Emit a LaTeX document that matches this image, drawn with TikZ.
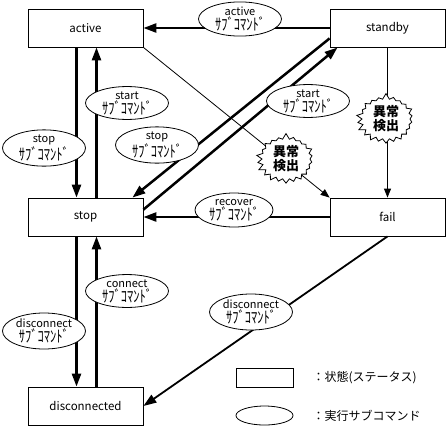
\documentclass[tikz,border=0pt]{standalone}
\usepackage{fontspec}
\newfontfamily\jp{Noto Sans CJK JP}
\usetikzlibrary{shapes.geometric,shapes.symbols,arrows.meta,calc}
\newcommand\subcmdtext{\scalebox{1}[1.3]{\fontsize{12.5}{13}\selectfont ｻﾌﾞｺﾏﾝﾄﾞ}}
\begin{document}
\begin{tikzpicture}[x=1pt,y=-1pt,
  state/.style={draw,line width=0.8pt,minimum width=115pt,minimum height=38pt,inner sep=0pt,font=\jp\fontsize{11.5}{13}\selectfont},
  cmd/.style={ellipse,draw,line width=0.8pt,fill=white,inner sep=0pt,minimum width=83pt,minimum height=32pt,align=center,font=\jp\fontsize{11}{13}\selectfont},
  thickarrow/.style={line width=2.5pt,-{Triangle[width=9pt,length=13pt]}},
  thinarrow/.style={line width=0.8pt,-{Triangle[width=7pt,length=9pt]}},
  alarm/.style={starburst,draw,fill=white,line width=0.8pt,starburst points=22,starburst point height=6pt,random starburst=7,align=center,font=\jp\bfseries\fontsize{13}{14}\selectfont,inner sep=0pt,minimum width=60pt,minimum height=52pt},
  legtext/.style={anchor=west,font=\jp\fontsize{12}{13}\selectfont}]
\useasboundingbox (0,0) rectangle (447,429);
% states
\node[state] (active) at (85.5,28) {active};
\node[state] (standby) at (387.5,28) {standby};
\node[state] (stop) at (85.5,217) {stop};
\node[state] (fail) at (387.5,217) {fail};
\node[state] (disc) at (85.5,406) {disconnected};
% connectors
\draw[thickarrow] ($(active.south)+(-9,0)$) -- ($(stop.north)+(-9,0)$);
\draw[thickarrow] ($(stop.north)+(11,0)$) -- ($(active.south)+(11,0)$);
\draw[thickarrow] ($(stop.south)+(-9,0)$) -- ($(disc.north)+(-9,0)$);
\draw[thickarrow] ($(disc.north)+(11,0)$) -- ($(stop.south)+(11,0)$);
\draw[thickarrow] (standby.west) -- (active.east);
\draw[thickarrow] ($(standby.south west)+(0,-9)$) -- ($(stop.north east)+(-11,0)$);
\draw[thickarrow] ($(stop.north east)+(0,12)$) -- ($(standby.south west)+(8,0)$);
\draw[thickarrow] (fail.west) -- (stop.east);
\draw[line width=1.8pt,-{Triangle[width=9pt,length=13pt]}] (fail.south) -- (disc.east);
\draw[thinarrow] (active.south east) -- (fail.north west);
\draw[thinarrow] (standby.south) -- (fail.north);
% command labels
\node[cmd,minimum height=34pt] (cactive) at (240,19) {active\\\subcmdtext};
\node[cmd,minimum height=34pt] (cstop2) at (157,145) {stop\\\subcmdtext};
\node[cmd] (cstart2) at (308,101) {start\\\subcmdtext};
\node[cmd,minimum height=29pt] (cstart) at (127,103) {start\\\subcmdtext};
\node[cmd,minimum height=30pt] (cstop) at (44,148) {stop\\\subcmdtext};
\node[cmd,minimum width=78pt,minimum height=34pt] (crecover) at (234,210) {recover\\\subcmdtext};
\node[cmd,minimum height=31pt] (cconnect) at (127,291) {connect\\\subcmdtext};
\node[cmd,minimum height=36pt] (cdisc) at (44,331) {disconnect\\\subcmdtext};
\node[cmd,minimum height=36pt] (cdisc2) at (251,312) {disconnect\\\subcmdtext};
% error detection
\node[alarm] (err1) at (286,159) {異常\\検出};
\node[alarm] (err2) at (386,119) {異常\\検出};
% legend
\node[draw,line width=0.8pt,minimum width=57pt,minimum height=19pt,inner sep=0pt] (legstate) at (264.5,377.5) {};
\node[ellipse,draw,line width=0.8pt,minimum width=57pt,minimum height=19pt,inner sep=0pt] (legcmd) at (264.5,415.5) {};
\node[legtext] (legstatetxt) at (309,377.5) {：状態(ステータス)};
\node[legtext] (legcmdtxt) at (309,415.5) {：実行サブコマンド};
\end{tikzpicture}
\end{document}
